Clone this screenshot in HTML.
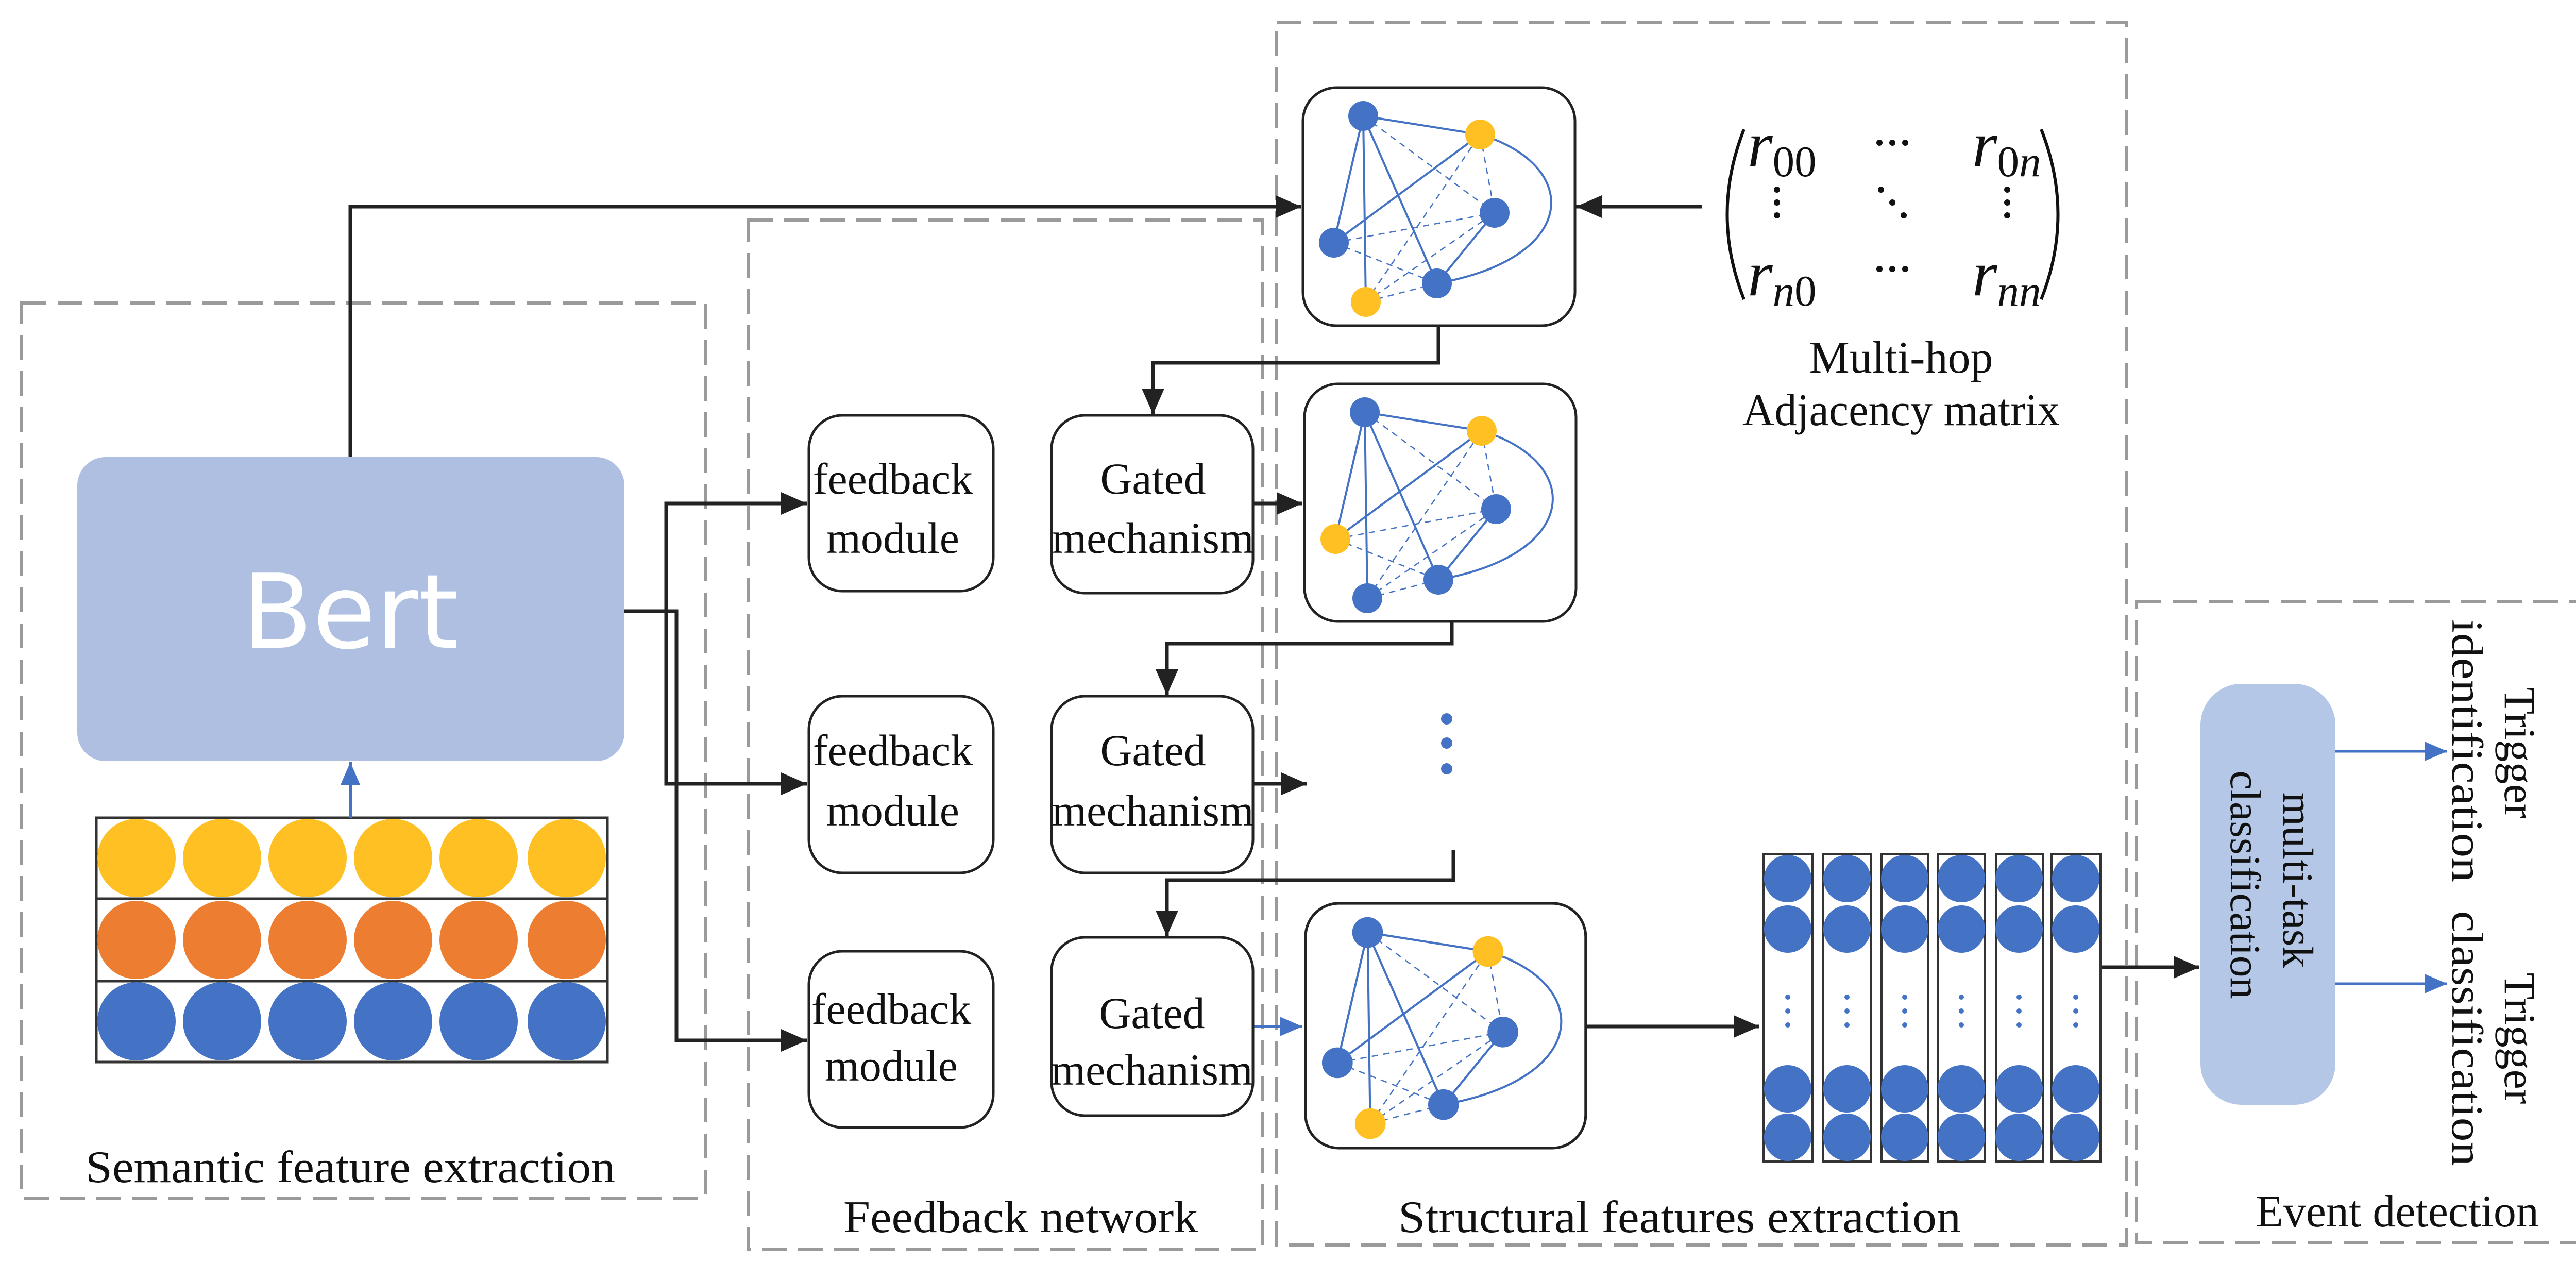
<!DOCTYPE html>
<html><head><meta charset="utf-8"><style>
html,body{margin:0;padding:0;background:#fff}
svg{display:block}
svg text{font-family:"Liberation Serif",serif !important;fill:#111}
svg text.bert{font-family:"DejaVu Sans","Liberation Sans",sans-serif !important;fill:#fff}
</style></head><body>
<svg width="5084" height="2451" viewBox="0 0 5084 2451" xmlns="http://www.w3.org/2000/svg" font-family="Liberation Serif, serif">
<defs>
<marker id="ah" markerUnits="userSpaceOnUse" markerWidth="60" markerHeight="50" refX="50" refY="22" orient="auto"><path d="M0,0 L50,22 L0,44 z" fill="#222"/></marker>
<marker id="ab" markerUnits="userSpaceOnUse" markerWidth="60" markerHeight="50" refX="44" refY="19" orient="auto"><path d="M0,0 L44,19 L0,38 z" fill="#4472C4"/></marker>
<g id="edges">
<g stroke="#4472C4" stroke-width="4" fill="none">
<line x1="117" y1="55" x2="344" y2="91"/>
<line x1="117" y1="55" x2="60" y2="301"/>
<line x1="117" y1="55" x2="122" y2="416"/>
<line x1="117" y1="55" x2="260" y2="380"/>
<line x1="60" y1="301" x2="344" y2="91"/>
<line x1="372" y1="243" x2="260" y2="380"/>
<path d="M344,91 C540,150 540,330 260,380"/>
</g>
<g stroke="#4472C4" stroke-width="2.5" stroke-dasharray="12,10" fill="none">
<line x1="117" y1="55" x2="372" y2="243"/>
<line x1="60" y1="301" x2="372" y2="243"/>
<line x1="122" y1="416" x2="344" y2="91"/>
<line x1="122" y1="416" x2="372" y2="243"/>
<line x1="60" y1="301" x2="260" y2="380"/>
<line x1="122" y1="416" x2="260" y2="380"/>
<line x1="344" y1="91" x2="372" y2="243"/>
</g>
</g>
</defs>

<g fill="none" stroke="#9a9a9a" stroke-width="6" stroke-dasharray="48,22">
<rect x="42" y="588" width="1328" height="1737"/>
<rect x="1452" y="427" width="999" height="1997"/>
<rect x="2478" y="44" width="1650" height="2372"/>
<rect x="4147" y="1167" width="898" height="1244"/>
</g>

<rect x="150" y="887" width="1062" height="590" rx="55" fill="#aebfe1"/>
<text class="bert" x="680" y="1257" text-anchor="middle" font-size="200" font-family="DejaVu Sans, sans-serif">Bert</text>

<g stroke="#333" stroke-width="5" fill="none">
<rect x="187" y="1587" width="992" height="157"/>
<rect x="187" y="1744" width="992" height="160"/>
<rect x="187" y="1904" width="992" height="157"/>
</g>
<g fill="#FFC024">
<circle cx="265" cy="1665" r="76"/><circle cx="431" cy="1665" r="76"/><circle cx="597" cy="1665" r="76"/><circle cx="763" cy="1665" r="76"/><circle cx="929" cy="1665" r="76"/><circle cx="1100" cy="1665" r="76"/>
</g>
<g fill="#ED7D31">
<circle cx="265" cy="1824" r="76"/><circle cx="431" cy="1824" r="76"/><circle cx="597" cy="1824" r="76"/><circle cx="763" cy="1824" r="76"/><circle cx="929" cy="1824" r="76"/><circle cx="1100" cy="1824" r="76"/>
</g>
<g fill="#4472C4">
<circle cx="265" cy="1982" r="76"/><circle cx="431" cy="1982" r="76"/><circle cx="597" cy="1982" r="76"/><circle cx="763" cy="1982" r="76"/><circle cx="929" cy="1982" r="76"/><circle cx="1100" cy="1982" r="76"/>
</g>
<line x1="680" y1="1587" x2="680" y2="1479" stroke="#4472C4" stroke-width="6" marker-end="url(#ab)"/>
<text x="680" y="2294" text-anchor="middle" font-size="88" textLength="1028" lengthAdjust="spacingAndGlyphs">Semantic feature extraction</text>

<g stroke="#222" stroke-width="7" fill="none">
<polyline points="680,887 680,401 2526,401" marker-end="url(#ah)"/>
<polyline points="1212,1186 1293,1186 1293,977 1566,977" marker-end="url(#ah)"/>
<polyline points="1293,1186 1293,1521 1566,1521" marker-end="url(#ah)"/>
<polyline points="1212,1186 1313,1186 1313,2019 1566,2019" marker-end="url(#ah)"/>
<line x1="3303" y1="401" x2="3059" y2="401" marker-end="url(#ah)"/>
<polyline points="2792,632 2792,704 2238,704 2238,804" marker-end="url(#ah)"/>
<polyline points="2818,1206 2818,1249 2265,1249 2265,1349" marker-end="url(#ah)"/>
<polyline points="2821,1650 2821,1708 2265,1708 2265,1817" marker-end="url(#ah)"/>
<line x1="2371" y1="977" x2="2528" y2="977" marker-end="url(#ah)"/>
<line x1="2371" y1="1521" x2="2537" y2="1521" marker-end="url(#ah)"/>
<line x1="3079" y1="1992" x2="3415" y2="1992" marker-end="url(#ah)"/>
<line x1="4077" y1="1877" x2="4269" y2="1877" marker-end="url(#ah)"/>
</g>
<line x1="2432" y1="1992" x2="2528" y2="1992" stroke="#4472C4" stroke-width="6" marker-end="url(#ab)"/>

<g fill="#fff" stroke="#222" stroke-width="5">
<rect x="1570" y="806" width="358" height="341" rx="65"/>
<rect x="1570" y="1351" width="358" height="343" rx="65"/>
<rect x="1570" y="1846" width="358" height="342" rx="65"/>
<rect x="2041" y="806" width="391" height="345" rx="65"/>
<rect x="2041" y="1351" width="391" height="343" rx="65"/>
<rect x="2041" y="1819" width="391" height="346" rx="65"/>
</g>
<g font-size="86" text-anchor="middle">
<text x="1733" y="958">feedback</text><text x="1733" y="1073">module</text>
<text x="1733" y="1485">feedback</text><text x="1733" y="1602">module</text>
<text x="1730" y="1987">feedback</text><text x="1730" y="2097">module</text>
<text x="2238" y="958">Gated</text><text x="2238" y="1073">mechanism</text>
<text x="2238" y="1485">Gated</text><text x="2238" y="1602">mechanism</text>
<text x="2236" y="1995">Gated</text><text x="2236" y="2105">mechanism</text>
</g>
<text x="1981" y="2391" text-anchor="middle" font-size="88" textLength="688" lengthAdjust="spacingAndGlyphs">Feedback network</text>

<g transform="translate(2529,170)">
<rect x="0" y="0" width="528" height="462" rx="65" fill="#fff" stroke="#222" stroke-width="5"/>
<use href="#edges"/>
<circle cx="117" cy="55" r="29" fill="#4472C4"/><circle cx="344" cy="91" r="29" fill="#FFC024"/><circle cx="372" cy="243" r="29" fill="#4472C4"/><circle cx="60" cy="301" r="29" fill="#4472C4"/><circle cx="122" cy="416" r="29" fill="#FFC024"/><circle cx="260" cy="380" r="29" fill="#4472C4"/>
</g>
<g transform="translate(2532,745)">
<rect x="0" y="0" width="527" height="461" rx="65" fill="#fff" stroke="#222" stroke-width="5"/>
<use href="#edges"/>
<circle cx="117" cy="55" r="29" fill="#4472C4"/><circle cx="344" cy="91" r="29" fill="#FFC024"/><circle cx="372" cy="243" r="29" fill="#4472C4"/><circle cx="60" cy="301" r="29" fill="#FFC024"/><circle cx="122" cy="416" r="29" fill="#4472C4"/><circle cx="260" cy="380" r="29" fill="#4472C4"/>
</g>
<g transform="translate(2534,1753) scale(1.03,1.028)">
<rect x="0" y="0" width="528" height="462" rx="63" fill="#fff" stroke="#222" stroke-width="5"/>
<use href="#edges"/>
<circle cx="117" cy="55" r="29" fill="#4472C4"/><circle cx="344" cy="91" r="29" fill="#FFC024"/><circle cx="372" cy="243" r="29" fill="#4472C4"/><circle cx="60" cy="301" r="29" fill="#4472C4"/><circle cx="122" cy="416" r="29" fill="#FFC024"/><circle cx="260" cy="380" r="29" fill="#4472C4"/>
</g>

<g fill="#4472C4"><circle cx="2808" cy="1395" r="11"/><circle cx="2808" cy="1442" r="11"/><circle cx="2808" cy="1492" r="11"/></g>

<g fill="none" stroke="#111" stroke-width="6">
<path d="M3385,251 Q3320,416 3385,581"/>
<path d="M3962,251 Q4027,416 3962,581"/>
</g>
<g font-size="125" font-style="italic">
<text x="3392" y="322">r<tspan font-size="85" dy="20" font-style="normal">00</tspan></text>
<text x="3828" y="322">r<tspan font-size="85" dy="20" font-style="normal">0</tspan><tspan font-size="85">n</tspan></text>
<text x="3392" y="573">r<tspan font-size="85" dy="20">n</tspan><tspan font-size="85" font-style="normal">0</tspan></text>
<text x="3828" y="573">r<tspan font-size="85" dy="20">nn</tspan></text>
</g>
<g fill="#111">
<circle cx="3648" cy="277" r="6"/><circle cx="3673" cy="277" r="6"/><circle cx="3698" cy="277" r="6"/>
<circle cx="3648" cy="522" r="6"/><circle cx="3673" cy="522" r="6"/><circle cx="3698" cy="522" r="6"/>
<circle cx="3449" cy="368" r="6"/><circle cx="3449" cy="393" r="6"/><circle cx="3449" cy="418" r="6"/>
<circle cx="3896" cy="368" r="6"/><circle cx="3896" cy="393" r="6"/><circle cx="3896" cy="418" r="6"/>
<circle cx="3651" cy="368" r="6"/><circle cx="3673" cy="393" r="6"/><circle cx="3695" cy="418" r="6"/>
</g>
<text x="3690" y="723" text-anchor="middle" font-size="88">Multi-hop</text>
<text x="3690" y="825" text-anchor="middle" font-size="88" textLength="616" lengthAdjust="spacingAndGlyphs">Adjacency matrix</text>

<g stroke="#333" stroke-width="4" fill="#fff">
<rect x="3423" y="1657" width="95" height="597"/>
<rect x="3539" y="1657" width="92" height="597"/>
<rect x="3652" y="1657" width="91" height="597"/>
<rect x="3762" y="1657" width="91" height="597"/>
<rect x="3874" y="1657" width="91" height="597"/>
<rect x="3982" y="1657" width="95" height="597"/>
</g>
<g fill="#4472C4">
<g id="col"><circle cx="3470" cy="1705" r="46"/><circle cx="3470" cy="1803" r="46"/><circle cx="3470" cy="2113" r="46"/><circle cx="3470" cy="2207" r="46"/><circle cx="3470" cy="1935" r="5"/><circle cx="3470" cy="1962" r="5"/><circle cx="3470" cy="1989" r="5"/></g>
<use href="#col" x="115"/><use href="#col" x="227"/><use href="#col" x="337"/><use href="#col" x="449"/><use href="#col" x="559"/>
</g>
<text x="3260" y="2391" text-anchor="middle" font-size="88" textLength="1092" lengthAdjust="spacingAndGlyphs">Structural features extraction</text>

<rect x="4271" y="1327" width="262" height="817" rx="80" fill="#b4c7e7"/>
<text transform="translate(4432,1708) rotate(90)" text-anchor="middle" font-size="84">multi-task</text>
<text transform="translate(4330,1717) rotate(90)" text-anchor="middle" font-size="84">classification</text>
<line x1="4533" y1="1458" x2="4750" y2="1458" stroke="#4472C4" stroke-width="5" marker-end="url(#ab)"/>
<line x1="4533" y1="1909" x2="4750" y2="1909" stroke="#4472C4" stroke-width="5" marker-end="url(#ab)"/>
<text transform="translate(4862,1461) rotate(90)" text-anchor="middle" font-size="86">Trigger</text>
<text transform="translate(4760,1457) rotate(90)" text-anchor="middle" font-size="86" textLength="510" lengthAdjust="spacingAndGlyphs">identification</text>
<text transform="translate(4862,2015) rotate(90)" text-anchor="middle" font-size="86">Trigger</text>
<text transform="translate(4760,2015) rotate(90)" text-anchor="middle" font-size="86" textLength="495" lengthAdjust="spacingAndGlyphs">classification</text>
<text x="4653" y="2380" text-anchor="middle" font-size="88">Event detection</text>
</svg>
</body></html>
